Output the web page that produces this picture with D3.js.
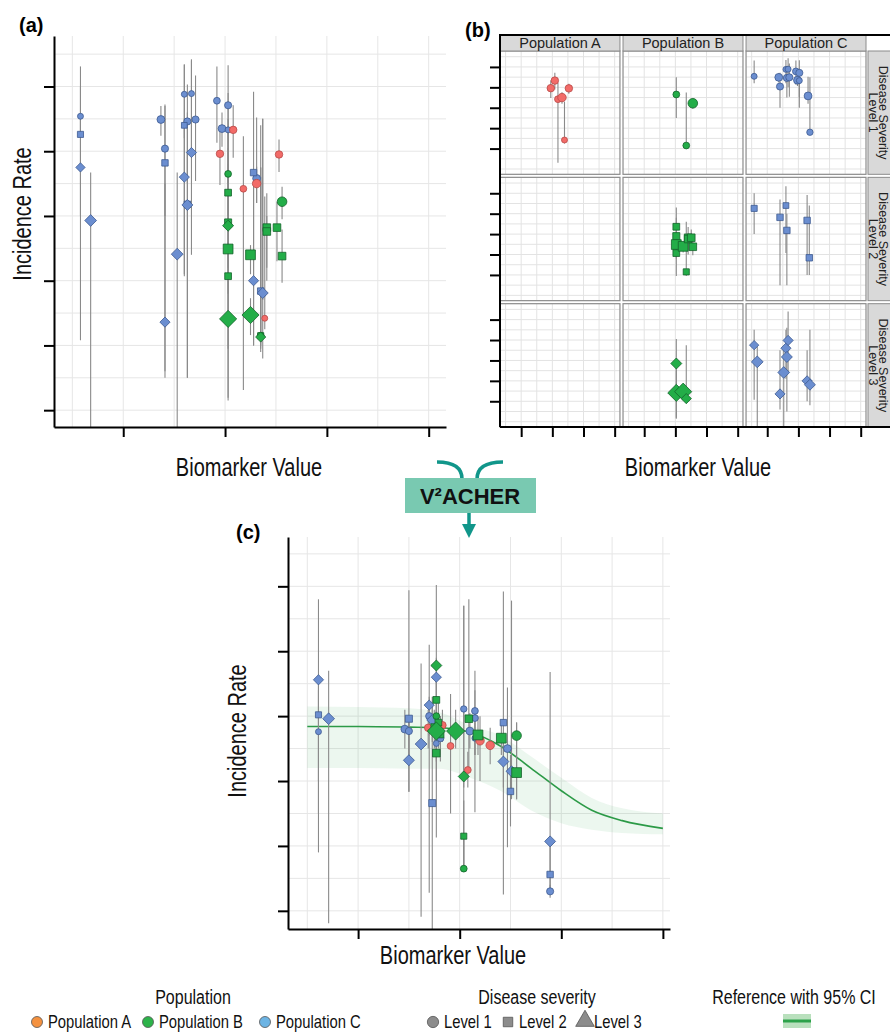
<!DOCTYPE html>
<html>
<head>
<meta charset="utf-8">
<script src="https://cdn.jsdelivr.net/npm/d3@7"></script>
<style>
  body { margin: 0; background: #fff; }
  text { font-family: "Liberation Sans", Arial, sans-serif; }
</style>
</head>
<body>
<svg id="fig" width="890" height="1032"></svg>
<script>
const populations = ["Population A", "Population B", "Population C"];
const levels = ["Level 1", "Level 2", "Level 3"];
const xTicks = [1, 2, 3, 4];
const yTicks = [0, 1, 2, 3, 4, 5];
const facetYTicks = [1, 2, 3, 4, 5];

// raw study estimates, panels (a) and (b): [level, biomarker, rate, ciLow, ciHigh, n]
const rawPopA = [
  [1, 1.95, 3.96, 3.48, 4.33, 11], [1, 2.08, 4.33, 3.90, 4.71, 11], [1, 2.18, 3.42, 0.31, 4.23, 9],
  [1, 2.31, 3.50, 3.20, 3.76, 14], [1, 2.39, 1.42, 1.25, 3.30, 7], [1, 2.53, 3.95, 3.68, 4.18, 11]
];
const rawPopB = [
  [1, 2.03, 3.65, 2.50, 4.50, 9], [1, 2.56, 3.22, 2.95, 3.45, 18], [1, 2.35, 1.15, 1.05, 3.75, 9],
  [2, 2.03, 3.36, 2.90, 3.80, 11], [2, 2.03, 2.90, 0.95, 4.30, 12], [2, 2.03, 2.49, 2.20, 2.80, 23],
  [2, 2.03, 2.07, 1.80, 2.40, 11], [2, 2.25, 2.40, 2.10, 2.55, 23], [2, 2.41, 2.82, 2.20, 3.35, 14],
  [2, 2.41, 2.76, 2.00, 3.00, 14], [2, 2.51, 2.82, 2.30, 3.22, 14], [2, 2.56, 2.38, 1.97, 2.79, 14],
  [2, 2.35, 1.15, 0.95, 3.60, 9],
  [3, 2.03, 2.85, 0.15, 4.05, 14], [3, 2.03, 1.41, 0.19, 2.60, 34], [3, 2.25, 1.47, 1.16, 1.73, 34],
  [3, 2.35, 1.13, 0.90, 3.75, 12]
];
const rawPopC = [
  [1, 0.58, 4.54, 4.20, 5.31, 7], [1, 1.37, 4.49, 4.24, 4.70, 12], [1, 1.41, 4.04, 3.00, 4.72, 10],
  [1, 1.60, 4.88, 4.20, 5.34, 7], [1, 1.63, 4.46, 3.50, 5.03, 10], [1, 1.67, 4.89, 4.00, 5.42, 7],
  [1, 1.71, 4.49, 3.54, 5.17, 10], [1, 1.92, 4.78, 4.13, 5.31, 9], [1, 1.97, 4.35, 4.07, 4.60, 12],
  [1, 2.03, 4.71, 3.00, 5.33, 10], [1, 2.03, 4.33, 3.50, 4.90, 7], [1, 2.31, 3.58, 3.20, 4.52, 12],
  [1, 2.37, 1.80, 1.70, 4.50, 8],
  [2, 0.58, 4.26, 3.00, 5.00, 9], [2, 1.41, 3.82, 0.50, 4.70, 10], [2, 1.60, 4.40, 2.07, 5.34, 8],
  [2, 1.63, 3.18, 0.50, 4.00, 10], [2, 2.28, 3.67, 1.00, 4.92, 10], [2, 2.35, 1.84, 1.00, 4.40, 10],
  [3, 0.58, 3.75, 1.08, 4.50, 10], [3, 0.68, 2.93, -0.50, 3.67, 16], [3, 1.41, 1.36, 0.60, 3.50, 12],
  [3, 1.53, 2.41, -0.50, 3.67, 16], [3, 1.60, 3.60, 2.10, 4.50, 12], [3, 1.63, 3.17, 0.50, 4.60, 14],
  [3, 1.67, 3.98, 2.40, 5.40, 12], [3, 2.28, 2.00, 1.00, 3.50, 12], [3, 2.37, 1.81, 0.80, 4.50, 14]
];

// harmonised estimates, panel (c)
const calPopA = [
  [1, 1.69, 2.82, 2.50, 3.10, 11], [1, 1.83, 2.86, 2.60, 3.10, 11], [1, 1.91, 2.54, 1.50, 3.34, 9],
  [1, 2.20, 2.62, 2.00, 3.00, 14], [1, 2.30, 2.55, 2.26, 2.82, 14], [1, 2.08, 2.17, 1.90, 2.45, 9]
];
const calPopB = [
  [1, 1.77, 3.00, 2.60, 3.30, 9], [1, 2.56, 2.70, 1.72, 2.90, 18], [1, 2.04, 0.65, 0.60, 1.20, 9],
  [2, 1.77, 3.25, 2.80, 3.60, 11], [2, 1.77, 2.43, 2.00, 2.80, 14], [2, 2.09, 2.96, 2.14, 4.80, 14],
  [2, 2.18, 2.71, 2.40, 3.00, 23], [2, 2.41, 2.66, 2.40, 2.90, 23], [2, 2.56, 2.13, 1.72, 2.90, 23],
  [2, 2.04, 1.15, 0.70, 1.70, 9], [2, 1.75, 2.83, 2.50, 3.10, 11], [2, 1.81, 2.72, 2.40, 3.00, 12],
  [2, 1.79, 2.90, 2.50, 3.20, 11],
  [3, 1.77, 3.78, 1.13, 5.02, 14], [3, 1.77, 2.77, 2.40, 3.10, 38], [3, 1.96, 2.77, 2.50, 3.10, 38],
  [3, 2.04, 2.07, 0.65, 4.70, 14]
];
const calPopC = [
  [1, 0.61, 2.76, 1.50, 3.40, 7], [1, 1.46, 2.80, 2.50, 3.10, 12], [1, 1.50, 2.77, 2.30, 3.00, 10],
  [1, 1.70, 3.00, 2.70, 3.30, 10], [1, 1.81, 2.66, 2.30, 3.00, 10], [1, 1.77, 2.58, 2.30, 2.90, 7],
  [1, 2.04, 3.11, 1.90, 4.70, 8], [1, 2.15, 3.08, 1.52, 3.70, 9], [1, 2.15, 2.97, 2.40, 3.40, 9],
  [1, 2.10, 2.77, 2.50, 3.05, 12], [1, 2.15, 2.66, 2.40, 2.90, 7], [1, 2.47, 2.50, 0.98, 3.44, 12],
  [1, 2.89, 0.30, 0.20, 0.40, 10],
  [2, 0.61, 3.02, 2.00, 3.50, 9], [2, 1.50, 2.96, 1.83, 4.94, 12], [2, 1.73, 1.66, -0.40, 3.30, 12],
  [2, 2.43, 2.90, 0.25, 4.92, 10], [2, 2.50, 1.84, 1.30, 2.40, 10], [2, 2.89, 0.56, 0.30, 1.07, 10],
  [3, 0.61, 3.56, 0.90, 4.80, 12], [3, 0.71, 2.96, -0.19, 3.70, 16], [3, 1.50, 2.32, 1.84, 2.90, 14],
  [3, 1.62, 2.57, -0.09, 3.81, 16], [3, 1.70, 3.17, 0.28, 4.10, 12], [3, 1.73, 2.94, 2.60, 3.20, 14],
  [3, 1.77, 3.60, 3.20, 3.90, 12], [3, 2.43, 2.30, 1.90, 2.70, 14], [3, 2.51, 2.15, 1.72, 4.78, 14],
  [3, 2.89, 1.07, 0.28, 3.68, 14]
];

// reference curve with 95% CI
const refX  = [0.5, 1.0, 1.5, 1.8, 2.1, 2.4, 2.7, 3.0, 3.3, 3.6, 4.0];
const refY  = [2.84, 2.84, 2.83, 2.82, 2.75, 2.54, 2.20, 1.85, 1.55, 1.39, 1.27];
const refLo = [2.20, 2.20, 2.19, 2.19, 2.05, 1.85, 1.55, 1.35, 1.25, 1.20, 1.18];
const refHi = [3.15, 3.14, 3.12, 3.06, 2.86, 2.70, 2.38, 2.05, 1.74, 1.58, 1.50];

const svg = d3.select("#fig");

const fill = d3.scaleOrdinal().domain(populations).range(["#f26b68", "#23ad48", "#6b8ed0"]);
const edge = d3.scaleOrdinal().domain(populations).range(["#b84a48", "#14632b", "#3d5a90"]);
const legendFill = d3.scaleOrdinal().domain(populations).range(["#f4913f", "#2db34a", "#6cb4e4"]);
const rScale = d3.scaleSqrt().domain([0, 50]).range([0, 8]);

function rows(list, pop) {
  return list.map(d => ({pop: pop, level: d[0], x: d[1], y: d[2], lo: d[3], hi: d[4], n: d[5]}));
}
const rawStudies = [].concat(rows(rawPopC, populations[2]), rows(rawPopA, populations[0]), rows(rawPopB, populations[1]));
const calStudies = [].concat(rows(calPopC, populations[2]), rows(calPopA, populations[0]), rows(calPopB, populations[1]));

function shape(level, r) {
  if (level === 1) return d3.symbol(d3.symbolCircle, Math.PI * r * r)();
  if (level === 2) return d3.symbol(d3.symbolSquare, (1.8 * r) * (1.8 * r))();
  const d = r * 1.3;
  return "M0," + (-d) + "L" + d + ",0L0," + d + "L" + (-d) + ",0Z";
}

// narrow-looking text: regular sans squeezed horizontally
function narrow(g, x, y, txt, size, rot, anchor) {
  return g.append("text")
    .attr("transform", "translate(" + x + "," + y + ") rotate(" + (rot || 0) + ") scale(0.8,1)")
    .attr("text-anchor", anchor || "middle").attr("font-size", size).attr("fill", "#111").text(txt);
}

let clipCount = 0;
function plotArea(g, x, y, w, h) {
  const id = "clip" + (clipCount++);
  g.append("clipPath").attr("id", id).append("rect")
    .attr("x", x).attr("y", y).attr("width", w).attr("height", h);
  return g.append("g").attr("clip-path", "url(#" + id + ")");
}

function grid(g, xs, ys, color) {
  g.append("g").selectAll("line").data(xs.ticks(8)).enter().append("line")
    .attr("x1", d => xs(d)).attr("x2", d => xs(d))
    .attr("y1", ys.range()[0]).attr("y2", ys.range()[1])
    .attr("stroke", color).attr("stroke-width", 1);
  g.append("g").selectAll("line").data(ys.ticks(12)).enter().append("line")
    .attr("y1", d => ys(d)).attr("y2", d => ys(d))
    .attr("x1", xs.range()[0]).attr("x2", xs.range()[1])
    .attr("stroke", color).attr("stroke-width", 1);
}

function studies(g, data, xs, ys) {
  g.append("g").selectAll("line").data(data).enter().append("line")
    .attr("x1", d => xs(d.x)).attr("x2", d => xs(d.x))
    .attr("y1", d => ys(d.lo)).attr("y2", d => ys(d.hi))
    .attr("stroke", "#8a8a8a").attr("stroke-width", 1.1);
  g.append("g").selectAll("path").data(data).enter().append("path")
    .attr("transform", d => "translate(" + xs(d.x) + "," + ys(d.y) + ")")
    .attr("d", d => shape(d.level, rScale(d.n)))
    .attr("fill", d => fill(d.pop))
    .attr("stroke", d => edge(d.pop))
    .attr("stroke-width", 0.8);
}

function styleAxis(g) {
  g.selectAll("path, line").attr("stroke", "#000").attr("stroke-width", 2);
}

// ---------- panel (a)
const xA = d3.scaleLinear().domain([0.32, 4.17]).range([54, 446]);
const yA = d3.scaleLinear().domain([-0.26, 5.78]).range([427, 36]);
const gA = svg.append("g");
grid(gA, xA, yA, "#e6e6e6");
studies(plotArea(gA, 54, 36, 392, 391), rawStudies, xA, yA);
gA.append("g").attr("transform", "translate(54,0)")
  .call(d3.axisLeft(yA).tickValues(yTicks).tickSize(10).tickSizeOuter(0).tickFormat(""))
  .call(styleAxis);
gA.append("g").attr("transform", "translate(0,427)")
  .call(d3.axisBottom(xA).tickValues(xTicks).tickSize(10).tickSizeOuter(0).tickFormat(""))
  .call(styleAxis);
narrow(gA, 249, 476, "Biomarker Value", 25);
narrow(gA, 31, 214, "Incidence Rate", 25, -90);
gA.append("text").attr("x", 19).attr("y", 32).attr("font-size", 20).attr("font-weight", "bold").text("(a)");

// ---------- panel (b)
const gB = svg.append("g");
const colBand = d3.scaleBand().domain(populations).range([500, 866]).paddingInner(0.025);
const rowBand = d3.scaleBand().domain(levels).range([51, 427]).paddingInner(0.024);
const xF = d3.scaleLinear().domain([0.32, 4.17]).range([0, colBand.bandwidth()]);
const yF = d3.scaleLinear().domain([-0.26, 5.78]).range([rowBand.bandwidth(), 0]);

populations.forEach(function(p) {
  levels.forEach(function(l, li) {
    const cell = gB.append("g").attr("transform", "translate(" + colBand(p) + "," + rowBand(l) + ")");
    cell.append("rect").attr("width", colBand.bandwidth()).attr("height", rowBand.bandwidth()).attr("fill", "#fff");
    grid(cell, xF, yF, "#e3e3e3");
    const sub = rawStudies.filter(d => d.pop === p && d.level === li + 1);
    studies(plotArea(cell, 0, 0, colBand.bandwidth(), rowBand.bandwidth()), sub, xF, yF);
    cell.append("rect").attr("width", colBand.bandwidth()).attr("height", rowBand.bandwidth())
      .attr("fill", "none").attr("stroke", "#8c8c8c").attr("stroke-width", 1.2);
  });
});

// strips
gB.selectAll(".tstrip").data(populations).enter().append("rect")
  .attr("x", d => colBand(d)).attr("y", 35).attr("width", colBand.bandwidth()).attr("height", 16)
  .attr("fill", "#d9d9d9").attr("stroke", "#8c8c8c");
gB.selectAll(".tlab").data(populations).enter().append("text")
  .attr("x", d => colBand(d) + colBand.bandwidth() / 2).attr("y", 48).attr("text-anchor", "middle")
  .attr("font-size", 14.5).attr("fill", "#222").text(d => d);
gB.selectAll(".rstrip").data(levels).enter().append("rect")
  .attr("x", 868).attr("y", d => rowBand(d)).attr("width", 30).attr("height", rowBand.bandwidth())
  .attr("fill", "#d9d9d9").attr("stroke", "#8c8c8c");
const rlab = gB.selectAll(".rlab").data(levels).enter().append("text")
  .attr("transform", d => "translate(879," + (rowBand(d) + rowBand.bandwidth() / 2) + ") rotate(90)")
  .attr("text-anchor", "middle").attr("font-size", 12.5).attr("fill", "#222");
rlab.append("tspan").attr("x", 0).attr("dy", 0).text("Disease Severity");
rlab.append("tspan").attr("x", 0).attr("dy", 10.5).text(d => d);

// frame + ticks
gB.append("path").attr("d", "M500,427V35H890M500,427H890").attr("fill", "none")
  .attr("stroke", "#000").attr("stroke-width", 2);
levels.forEach(function(l) {
  gB.append("g").attr("transform", "translate(500," + rowBand(l) + ")")
    .call(d3.axisLeft(yF).tickValues(facetYTicks).tickSize(10).tickSizeOuter(0).tickFormat(""))
    .call(g => g.select(".domain").remove())
    .call(styleAxis);
});
populations.forEach(function(p) {
  gB.append("g").attr("transform", "translate(" + colBand(p) + ",427)")
    .call(d3.axisBottom(xF).tickValues(xTicks).tickSize(10).tickSizeOuter(0).tickFormat(""))
    .call(g => g.select(".domain").remove())
    .call(styleAxis);
});
narrow(gB, 698, 476, "Biomarker Value", 25);
gB.append("text").attr("x", 465).attr("y", 37).attr("font-size", 20).attr("font-weight", "bold").text("(b)");

// ---------- V2ACHER connector
const gV = svg.append("g");
gV.append("path").attr("d", "M437,462Q462,462 462,479M503,462Q477,462 477,479")
  .attr("fill", "none").attr("stroke", "#11968a").attr("stroke-width", 3.5);
gV.append("rect").attr("x", 405).attr("y", 478).attr("width", 131).attr("height", 35).attr("fill", "#79c9b1");
gV.append("text").attr("x", 470).attr("y", 504).attr("text-anchor", "middle").attr("font-size", 22)
  .attr("font-weight", "bold").attr("fill", "#111").text("V\u00B2ACHER");
gV.append("line").attr("x1", 469).attr("x2", 469).attr("y1", 513).attr("y2", 526)
  .attr("stroke", "#11968a").attr("stroke-width", 3.5);
gV.append("path").attr("d", "M462,524L476,524L469,538Z").attr("fill", "#11968a");

// ---------- panel (c)
const xC = d3.scaleLinear().domain([0.31, 4.07]).range([288, 670]);
const yC = d3.scaleLinear().domain([-0.28, 5.76]).range([929, 537]);
const gC = svg.append("g");
grid(gC, xC, yC, "#e6e6e6");
const areaC = plotArea(gC, 288, 537, 382, 392);
const band = d3.area().x((d, i) => xC(refX[i])).y0((d, i) => yC(refLo[i])).y1((d, i) => yC(refHi[i]))
  .curve(d3.curveMonotoneX);
areaC.append("path").attr("d", band(refX)).attr("fill", "#2ca24a").attr("fill-opacity", 0.09);
const refLine = d3.line().x((d, i) => xC(refX[i])).y((d, i) => yC(refY[i])).curve(d3.curveMonotoneX);
areaC.append("path").attr("d", refLine(refX)).attr("fill", "none").attr("stroke", "#2c9a47").attr("stroke-width", 1.6);
studies(areaC, calStudies, xC, yC);
gC.append("g").attr("transform", "translate(288,0)")
  .call(d3.axisLeft(yC).tickValues(yTicks).tickSize(10).tickSizeOuter(0).tickFormat(""))
  .call(styleAxis);
gC.append("g").attr("transform", "translate(0,929)")
  .call(d3.axisBottom(xC).tickValues(xTicks).tickSize(10).tickSizeOuter(0).tickFormat(""))
  .call(styleAxis);
narrow(gC, 453, 964, "Biomarker Value", 25);
narrow(gC, 246, 731, "Incidence Rate", 25, -90);
gC.append("text").attr("x", 236).attr("y", 539).attr("font-size", 20).attr("font-weight", "bold").text("(c)");

// ---------- legend
const gL = svg.append("g");
narrow(gL, 193, 1004, "Population", 20);
const popItemX = [37, 148, 265];
populations.forEach(function(p, i) {
  gL.append("circle").attr("cx", popItemX[i]).attr("cy", 1022).attr("r", 5.5)
    .attr("fill", legendFill(p)).attr("stroke", "#555").attr("stroke-width", 0.8);
  narrow(gL, popItemX[i] + 11, 1028, p, 18.5, 0, "start");
});
narrow(gL, 537, 1004, "Disease severity", 20);
const lvlItemX = [433, 508, 585];
const lvlShapes = [d3.symbolCircle, d3.symbolSquare, d3.symbolTriangle];
const lvlSizes = [100, 90, 150];
levels.forEach(function(l, i) {
  gL.append("path").attr("transform", "translate(" + lvlItemX[i] + "," + (i === 2 ? 1021 : 1022) + ")")
    .attr("d", d3.symbol(lvlShapes[i], lvlSizes[i])())
    .attr("fill", "#8c8c8c").attr("stroke", "#555").attr("stroke-width", 0.8);
  narrow(gL, lvlItemX[i] + (i === 2 ? 9 : 11), 1028, l, 18.5, 0, "start");
});
narrow(gL, 794, 1004, "Reference with 95% CI", 20);
gL.append("rect").attr("x", 783).attr("y", 1014).attr("width", 28).attr("height", 14).attr("fill", "#b9e0bd");
gL.append("line").attr("x1", 783).attr("x2", 811).attr("y1", 1021).attr("y2", 1021)
  .attr("stroke", "#2ca24a").attr("stroke-width", 3);
</script>
</body>
</html>
